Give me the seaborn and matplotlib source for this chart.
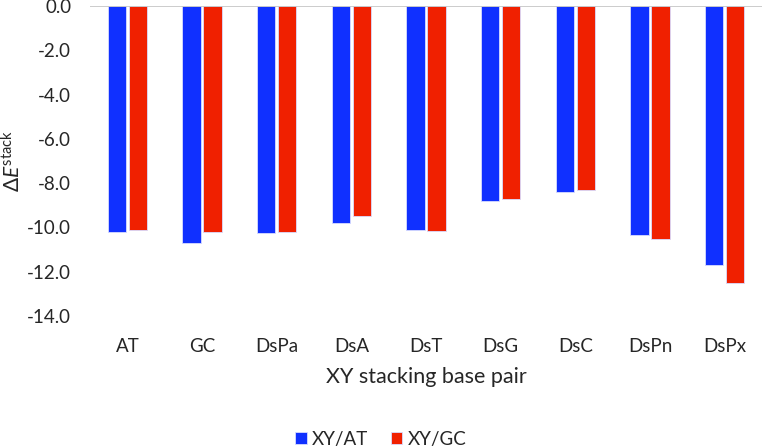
import matplotlib
matplotlib.use("Agg")
import matplotlib.pyplot as plt
import seaborn as sns
import pandas as pd

categories = ["AT", "GC", "DsPa", "DsA", "DsT", "DsG", "DsC", "DsPn", "DsPx"]
series_names = ["XY/AT", "XY/GC"]
xy_at = [-10.2, -10.7, -10.25, -9.8, -10.1, -8.8, -8.4, -10.35, -11.7]
xy_gc = [-10.1, -10.2, -10.2, -9.5, -10.15, -8.7, -8.3, -10.5, -12.5]
yticks = [0, -2, -4, -6, -8, -10, -12, -14]

df = pd.DataFrame({
    "cat": categories * 2,
    "series": [series_names[0]] * len(categories) + [series_names[1]] * len(categories),
    "val": xy_at + xy_gc,
})

sns.set_theme(style="white")
plt.rcParams["font.family"] = ["Lato", "DejaVu Sans"]
plt.rcParams["mathtext.fontset"] = "custom"
plt.rcParams["mathtext.rm"] = "Lato"
plt.rcParams["mathtext.it"] = "Lato:italic"
plt.rcParams["mathtext.fallback"] = "stixsans"

TXT = "#262626"
fig = plt.figure(figsize=(7.62, 4.48), dpi=100)
ax = fig.add_axes([90 / 762, 1 - 316 / 448, (762 - 90) / 762, (316 - 6) / 448])

palette = {"XY/AT": "#1030FF", "XY/GC": "#F02000"}
sns.barplot(data=df, x="cat", y="val", hue="series", order=categories,
            hue_order=series_names, palette=palette, width=0.56, gap=0.12,
            saturation=1, edgecolor="#D8DCFF", linewidth=0.6, ax=ax, legend=True)

ax.set_ylim(-14, 0)
ax.set_xlim(-0.5, len(categories) - 0.5)
ax.set_yticks(yticks)
ax.set_yticklabels([f"{t:.1f}" for t in yticks])
for s in ["left", "right", "bottom", "top"]:
    ax.spines[s].set_visible(False)
ax.axhline(0, color="#C4C4C4", linewidth=1.2, zorder=5)
ax.tick_params(axis="y", length=0, pad=13.5, labelsize=13.5, labelcolor=TXT)
ax.tick_params(axis="x", length=0, pad=16, labelsize=13.5, labelcolor=TXT)
ax.set_xlabel("XY stacking base pair", fontsize=15.5, color=TXT)
ax.xaxis.set_label_coords(0.5, (316 - 367) / 310)
ax.set_ylabel(r"$\Delta \mathit{E}^{\mathrm{stack}}$", fontsize=15, color=TXT)
ax.yaxis.set_label_coords((24 - 90) / 672, 0.5)

handles, labels = ax.get_legend_handles_labels()
ax.legend_.remove()
fig.legend(handles, labels, loc="center", bbox_to_anchor=(0.5, 1 - 439 / 448), ncol=2,
           frameon=False, fontsize=13.5, handlelength=0.6, handleheight=0.6,
           handletextpad=0.3, columnspacing=1.2, labelcolor=TXT)

fig.savefig("out.png", dpi=100)
